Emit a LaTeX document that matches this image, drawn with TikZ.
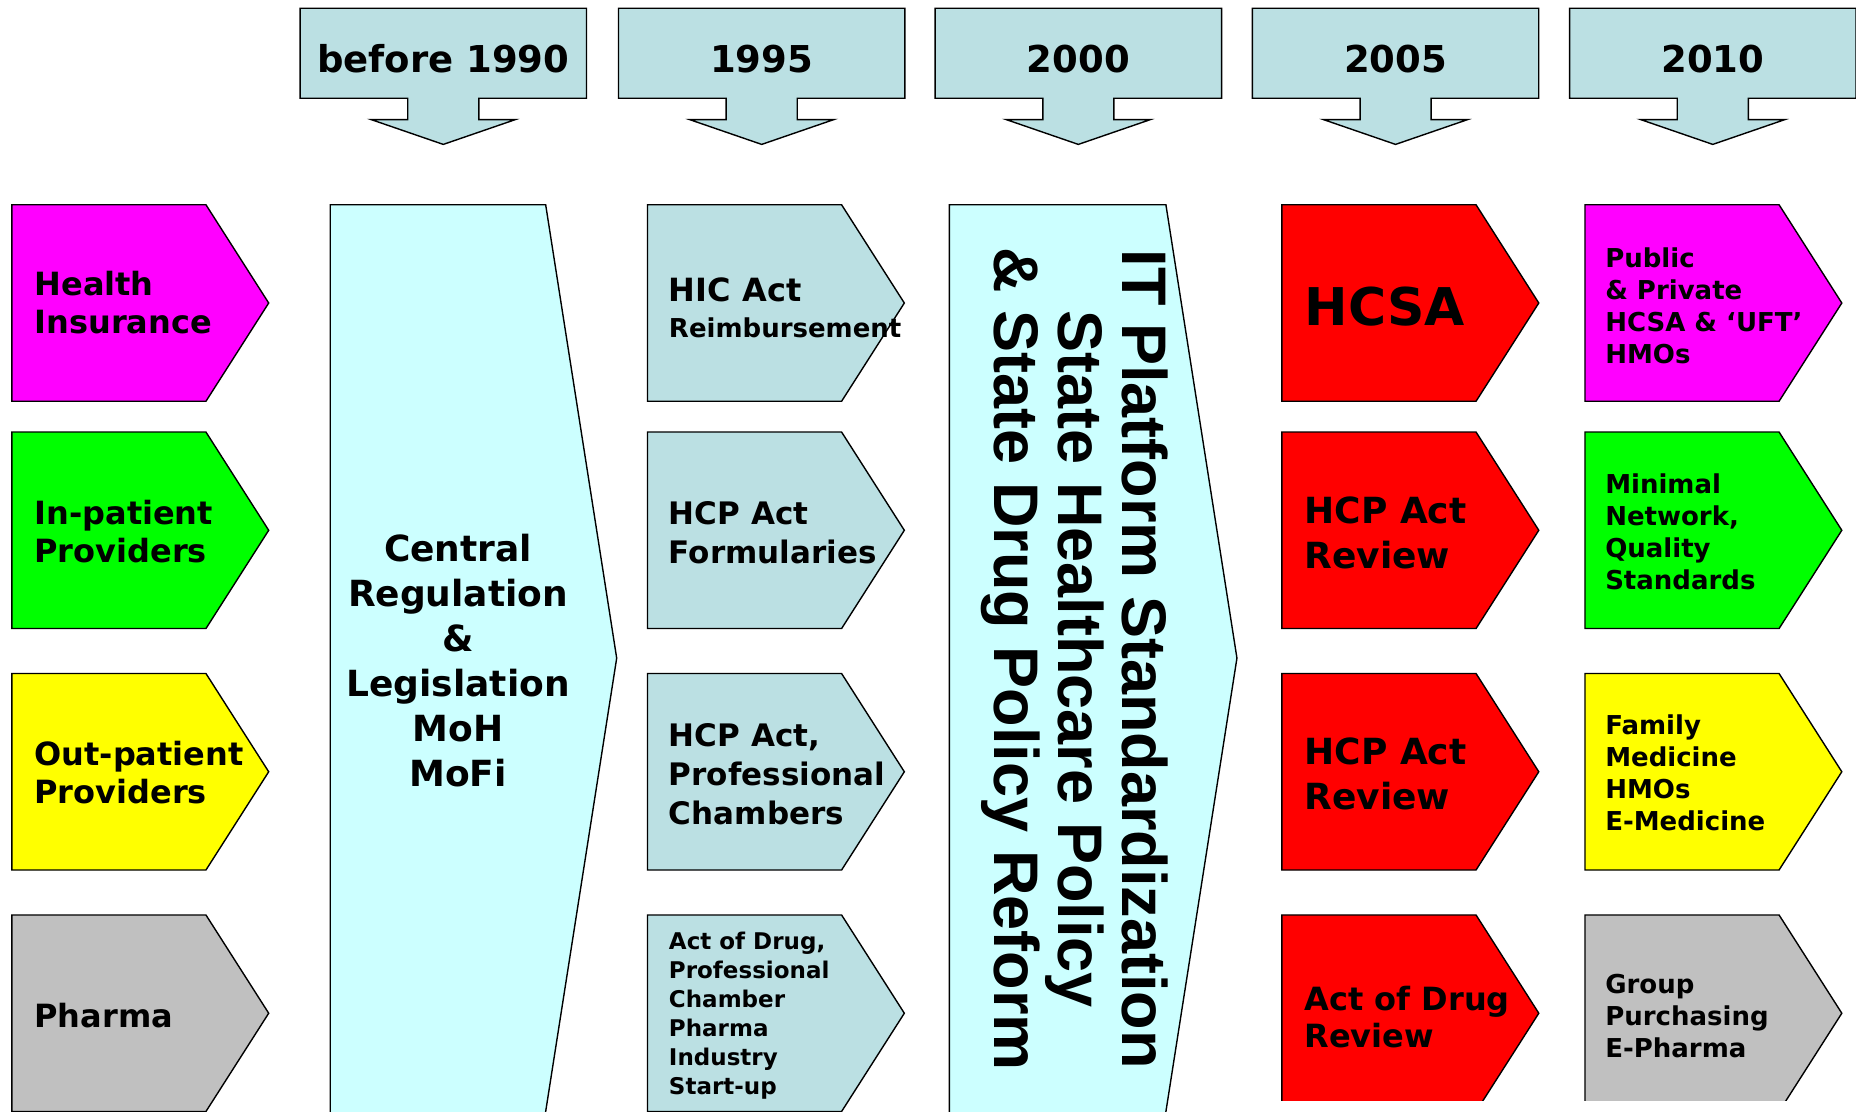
\documentclass[tikz,border=0pt]{standalone}
\usepackage{fontspec}
\setmainfont{DejaVu Sans}
\newfontfamily\arialfam{Liberation Sans}

\definecolor{hdrblue}{RGB}{187,224,227}
\definecolor{palecyan}{RGB}{204,255,255}
\definecolor{tagmagenta}{RGB}{255,0,255}
\definecolor{taggreen}{RGB}{0,255,0}
\definecolor{tagyellow}{RGB}{255,255,0}
\definecolor{taggray}{RGB}{192,192,192}
\definecolor{tagred}{RGB}{255,0,0}

\tikzset{
  shapeline/.style={draw=black, line width=1.4pt, line join=miter},
  yeartext/.style={inner sep=0pt, font=\bfseries\fontsize{37}{44}\selectfont},
  lbl/.style={anchor=west, align=left, inner sep=0pt},
  lefttxt/.style={lbl, font=\bfseries\fontsize{32}{38}\selectfont},
  midtxt/.style={lbl, font=\bfseries\fontsize{31}{39}\selectfont},
  smalltxt/.style={lbl, font=\bfseries\fontsize{23}{29}\selectfont},
  redtxt/.style={lbl, font=\bfseries\fontsize{36}{45}\selectfont},
  righttxt/.style={lbl, font=\bfseries\fontsize{26}{32}\selectfont},
}

% year header: box with a downward arrow; #1 centre x, #2 node name, #3 label
\newcommand\yearhead[3]{%
  \draw[shapeline, fill=hdrblue] ({#1-121},7) -- ({#1+121},7) -- ({#1+121},83)
    -- ({#1+30},83) -- ({#1+30},101) -- ({#1+61},101) -- (#1,122)
    -- ({#1-61},101) -- ({#1-30},101) -- ({#1-30},83) -- ({#1-121},83) -- cycle;
  \node[yeartext] (#2) at (#1,50) {#3};
}

% pentagon tag pointing right; #1 left x, #2 top y, #3 fill colour
\newcommand\tagbox[3]{%
  \draw[shapeline, fill=#3] (#1,#2) -- ({#1+164},#2) -- ({#1+217},{#2+83})
    -- ({#1+164},{#2+166}) -- (#1,{#2+166}) -- cycle;
}

\begin{document}
\begin{tikzpicture}[x=1.1837pt, y=-1.1837pt]
\useasboundingbox (0,0) rectangle (1568,939);
\clip (0,0) rectangle (1568,939);

% timeline headers
\yearhead{374.5}{y1990}{before 1990}
\yearhead{643.5}{y1995}{1995}
\yearhead{911}{y2000}{2000}
\yearhead{1179}{y2005}{2005}
\yearhead{1447}{y2010}{2010}

% sectors
\tagbox{10}{173}{tagmagenta}
\tagbox{10}{365}{taggreen}
\tagbox{10}{569}{tagyellow}
\tagbox{10}{773}{taggray}
\node[lefttxt] (ins) at (29,256) {Health\\Insurance};
\node[lefttxt] (inp) at (29,449) {In-patient\\Providers};
\node[lefttxt] (outp) at (29,653) {Out-patient\\Providers};
\node[lefttxt] (pha) at (29,858) {Pharma};

% before 1990
\draw[shapeline, fill=palecyan] (279,173) -- (461,173) -- (521,556) -- (461,939)
  -- (461,950) -- (279,950) -- cycle;
\node[align=center, inner sep=0pt, font=\bfseries\fontsize{36}{45}\selectfont] (central)
  at (387,558) {Central\\Regulation\\\&\\Legislation\\MoH\\MoFi};

% 1995
\tagbox{547}{173}{hdrblue}
\tagbox{547}{365}{hdrblue}
\tagbox{547}{569}{hdrblue}
\tagbox{547}{773}{hdrblue}
\node[lbl, font=\bfseries\fontsize{26}{35.5}\selectfont] (hic) at (565,260)
  {{\fontsize{32}{35.5}\selectfont HIC Act}\\Reimbursement};
\node[midtxt] (hcpf) at (565,450) {HCP Act\\Formularies};
\node[midtxt] (hcpc) at (565,654) {HCP Act,\\Professional\\Chambers};
\node[smalltxt] (aod) at (565,858) {Act of Drug,\\Professional\\Chamber\\Pharma\\Industry\\Start-up};

% 2000
\draw[shapeline, fill=palecyan] (802,173) -- (985,173) -- (1045,556) -- (985,939)
  -- (985,950) -- (802,950) -- cycle;
\node[rotate=-90, align=center, inner sep=0pt, font=\arialfam\bfseries\fontsize{63}{64}\selectfont] (itp)
  at (908,557) {IT Platform Standardization\\State Healthcare Policy\\\& State Drug Policy Reform};

% 2005 and 2010
\begin{scope}
\clip (1060,0) rectangle (1568,930);
\tagbox{1083}{173}{tagred}
\tagbox{1083}{365}{tagred}
\tagbox{1083}{569}{tagred}
\tagbox{1083}{773}{tagred}
\tagbox{1339}{173}{tagmagenta}
\tagbox{1339}{365}{taggreen}
\tagbox{1339}{569}{tagyellow}
\tagbox{1339}{773}{taggray}
\end{scope}
\node[lbl, font=\bfseries\fontsize{52}{60}\selectfont] (hcsa) at (1102,259) {HCSA};
\node[redtxt] (hcpr1) at (1102,450) {HCP Act\\Review};
\node[redtxt] (hcpr2) at (1102,654) {HCP Act\\Review};
\node[lbl, font=\bfseries\fontsize{32}{37}\selectfont] (aodr) at (1102,859) {Act of Drug\\Review};

\node[righttxt] (pub) at (1356,258) {Public\\\& Private\\HCSA \& ‘UFT’\\HMOs};
\node[righttxt] (mini) at (1356,449) {Minimal\\Network,\\Quality\\Standards};
\node[righttxt] (fam) at (1356,653) {Family\\Medicine\\HMOs\\E-Medicine};
\node[righttxt] (grp) at (1356,858) {Group\\Purchasing\\E-Pharma};
\end{tikzpicture}
\end{document}
